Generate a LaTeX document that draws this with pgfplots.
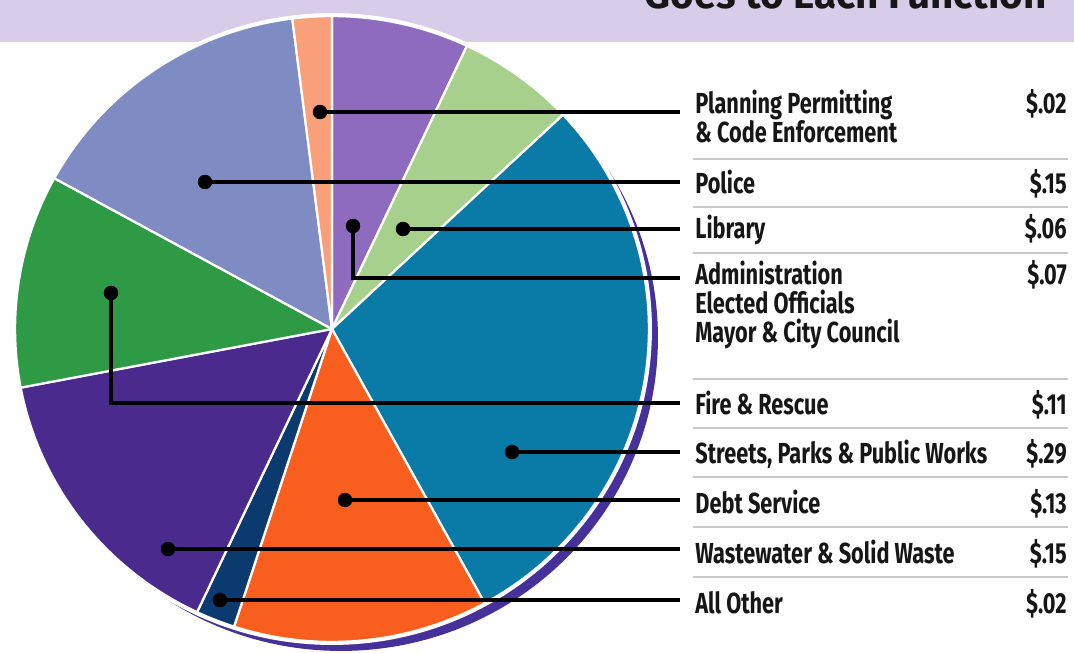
\documentclass[border=0pt]{standalone}
\usepackage{pgfplots}
\pgfplotsset{compat=1.18}
\usepackage{pgfplotstable}
\usepackage{fontspec}
\setmainfont{Fira Sans}
\newfontfamily\labfont{Fira Sans}[FakeStretch=0.75]

\definecolor{cAdm}{HTML}{8E6BBF}
\definecolor{cLib}{HTML}{A8D08D}
\definecolor{cStr}{HTML}{0A7BA6}
\definecolor{cDebt}{HTML}{F85F1F}
\definecolor{cOth}{HTML}{0B3A6E}
\definecolor{cWaste}{HTML}{4A2A8C}
\definecolor{cFire}{HTML}{2E9A46}
\definecolor{cPol}{HTML}{7F8CC4}
\definecolor{cPlan}{HTML}{F9A07A}
\definecolor{cRim}{HTML}{46309A}
\definecolor{cBand}{HTML}{D8CDE8}
\definecolor{cSep}{HTML}{C8C8C8}
\definecolor{cText}{HTML}{161616}

% shares clockwise from 12 o'clock; dot and leader row of each slice in pixels
\pgfplotstableread[col sep=comma]{
share,color,dotx,doty,liney
0.07,cAdm,353,226,278
0.06,cLib,403,229,229
0.29,cStr,512,452,452
0.13,cDebt,345,500,500
0.02,cOth,220,600,600
0.15,cWaste,168,549,549
0.11,cFire,111,293,403
0.15,cPol,205,182,182
0.02,cPlan,320,112,112
}\piedata

\def\rx{6.34cm}
\def\ry{6.26cm}

\tikzset{
  lab/.style={anchor=base west, text=cText, inner sep=0pt,
    font=\labfont\bfseries\fontsize{16.5}{19}\selectfont},
  val/.style={lab, anchor=base east},
}

\begin{document}
\begin{tikzpicture}
\begin{axis}[
  x=0.02cm, y=0.02cm,
  xmin=0, xmax=1074, ymin=0, ymax=652,
  y dir=reverse,
  hide axis,
  enlargelimits=false,
  clip=true,
]
\coordinate (bbA) at (axis cs:0,0);
\coordinate (bbB) at (axis cs:1074,652);

% header band (title runs off the top, as in the original)
\fill[cBand] (axis cs:0,0) rectangle (axis cs:1074,42);
\node[anchor=base east, inner sep=0pt, text=cText,
  font=\bfseries\fontsize{23}{27}\selectfont] at (axis cs:1047,9) {Goes to Each Function};

% shadow rim and white edge
\fill[cRim] (axis cs:341,338) ellipse[x radius=\rx, y radius=\ry];
\fill[white] (axis cs:332,329) ellipse[x radius=6.40cm, y radius=6.32cm];

% slices
\pgfplotstablegetrowsof{\piedata}
\pgfmathtruncatemacro\lastrow{\pgfplotsretval-1}
\def\cum{0}
\pgfplotsforeachungrouped \i in {0,...,\lastrow}{%
  \pgfplotstablegetelem{\i}{share}\of\piedata \let\v\pgfplotsretval
  \pgfplotstablegetelem{\i}{color}\of\piedata \let\c\pgfplotsretval
  \pgfmathsetmacro\a{90-360*\cum}
  \pgfmathsetmacro\b{90-360*(\cum+\v)}
  \edef\temp{\noexpand\fill[\c, draw=white, line width=0.045cm, line join=round]
    (axis cs:332,329) -- ++(\a:\rx\space and \ry)
    arc[start angle=\a, end angle=\b, x radius=\rx, y radius=\ry] -- cycle;}%
  \temp
  \pgfmathsetmacro\cum{\cum+\v}
}

% row separators
\pgfplotsinvokeforeach{159,207,253,379,428,477,527,577}{
  \draw[cSep, line width=0.03cm] (axis cs:693,#1) -- (axis cs:1068,#1);
}

% leaders
\pgfplotsforeachungrouped \i in {0,...,\lastrow}{%
  \pgfplotstablegetelem{\i}{dotx}\of\piedata \let\dx\pgfplotsretval
  \pgfplotstablegetelem{\i}{doty}\of\piedata \let\dy\pgfplotsretval
  \pgfplotstablegetelem{\i}{liney}\of\piedata \let\ly\pgfplotsretval
  \edef\temp{\noexpand\addplot[black, line width=0.085cm, no marks]
    coordinates {(\dx,\dy) (\dx,\ly) (680,\ly)};}%
  \temp
}
\addplot[only marks, mark=*, mark size=3.9pt, black] table[x=dotx, y=doty] {\piedata};

% labels
\node[lab] at (axis cs:695,113) {Planning Permitting};
\node[lab] at (axis cs:695,142) {\& Code Enforcement};
\node[lab] at (axis cs:695,193) {Police};
\node[lab] at (axis cs:695,238) {Library};
\node[lab] at (axis cs:695,284) {Administration};
\node[lab] at (axis cs:695,313) {Elected Officials};
\node[lab] at (axis cs:695,342) {Mayor \& City Council};
\node[lab] at (axis cs:695,414) {Fire \& Rescue};
\node[lab] at (axis cs:695,463) {Streets, Parks \& Public Works};
\node[lab] at (axis cs:695,513) {Debt Service};
\node[lab] at (axis cs:695,563) {Wastewater \& Solid Waste};
\node[lab] at (axis cs:695,613) {All Other};

\node[val] at (axis cs:1067,113) {\$.02};
\node[val] at (axis cs:1067,193) {\$.15};
\node[val] at (axis cs:1067,238) {\$.06};
\node[val] at (axis cs:1067,284) {\$.07};
\node[val] at (axis cs:1067,414) {\$.11};
\node[val] at (axis cs:1067,463) {\$.29};
\node[val] at (axis cs:1067,513) {\$.13};
\node[val] at (axis cs:1067,563) {\$.15};
\node[val] at (axis cs:1067,613) {\$.02};
\end{axis}
\pgfresetboundingbox
\useasboundingbox (bbA) rectangle (bbB);
\end{tikzpicture}
\end{document}
